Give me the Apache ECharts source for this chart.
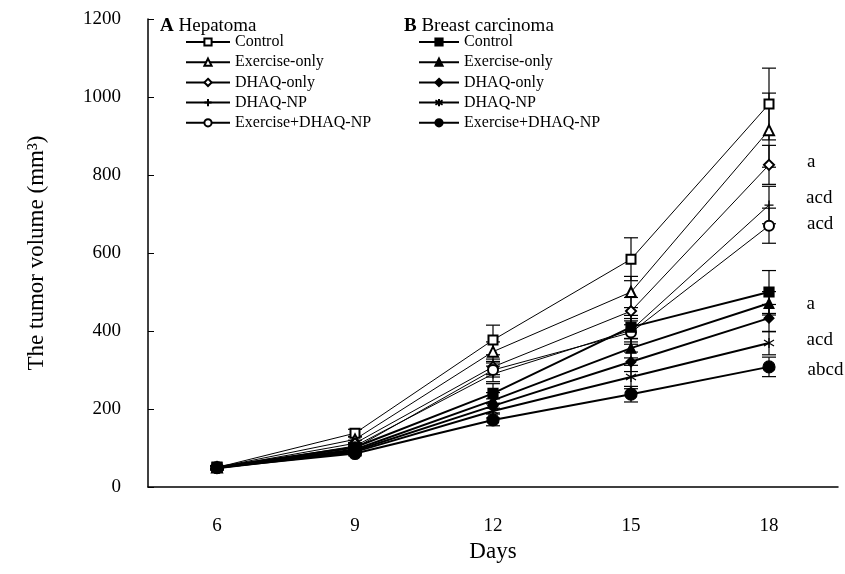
<!DOCTYPE html>
<html>
<head>
<meta charset="utf-8">
<script src="https://cdn.jsdelivr.net/npm/echarts@6/dist/echarts.min.js"></script>
<style>
  html, body { margin: 0; padding: 0; background: #fff; }
  #main { width: 845px; height: 574px; }
</style>
</head>
<body>
<div id="main"></div>
<script>
var days = ['6', '9', '12', '15', '18'];

// A Hepatoma (open marks, thin lines)
var hepControl   = [50, 138, 377, 584, 982];
var hepExercise  = [50, 122, 347, 500, 915];
var hepDhaq      = [49, 112, 308, 451, 826];
var hepDhaqNp    = [48, 105, 290, 402, 723];
var hepExDhaqNp  = [48, 100, 300, 396, 670];
var hepControlSd  = [5, 10, 38, 55, 92];
var hepExerciseSd = [4, 8, 25, 40, 95];
var hepDhaqSd     = [4, 8, 20, 35, 50];
var hepDhaqNpSd   = [4, 7, 20, 30, 48];
var hepExDhaqNpSd = [4, 7, 18, 30, 45];

// B Breast carcinoma (filled marks, heavier lines)
var brControl   = [51, 102, 240, 410, 500];
var brExercise  = [50, 96, 222, 356, 471];
var brDhaq      = [49, 93, 208, 321, 433];
var brDhaqNp    = [48, 90, 195, 282, 369];
var brExDhaqNp  = [50, 86, 172, 238, 308];
var brControlSd  = [4, 8, 25, 30, 55];
var brExerciseSd = [4, 7, 20, 25, 30];
var brDhaqSd     = [4, 7, 18, 25, 35];
var brDhaqNpSd   = [4, 6, 18, 30, 30];
var brExDhaqNpSd = [4, 6, 15, 20, 25];

var groupNames = ['Control', 'Exercise-only', 'DHAQ-only', 'DHAQ-NP', 'Exercise+DHAQ-NP'];
// significance letters at day 18
var hepNotes = ['', '', 'a', 'acd', 'acd'];
var brNotes  = ['', 'a', '', 'acd', 'abcd'];
var hepNoteShift = [0, 0, -3, -7, -2];
var brNoteShift  = [0, 1, 0, -3, 3];
var yTicks = [0, 1200, 200];

var serif = 'Liberation Serif';
var plusPath = 'path://M5,0L5,10M0,5L10,5';
var starPath = 'path://M5,0L5,10M0,2L10,8M0,8L10,2';

var hepSets = [
  [hepControl, hepControlSd, 'emptyRect', 9],
  [hepExercise, hepExerciseSd, 'emptyTriangle', 10],
  [hepDhaq, hepDhaqSd, 'emptyDiamond', 10],
  [hepDhaqNp, hepDhaqNpSd, plusPath, 9],
  [hepExDhaqNp, hepExDhaqNpSd, 'emptyCircle', 10]
];
var brSets = [
  [brControl, brControlSd, 'rect', 10],
  [brExercise, brExerciseSd, 'triangle', 10],
  [brDhaq, brDhaqSd, 'diamond', 10],
  [brDhaqNp, brDhaqNpSd, starPath, 10],
  [brExDhaqNp, brExDhaqNpSd, 'circle', 12]
];

function errorBars(vals, sds) {
  return vals.map(function (v, i) { return [i, v - sds[i], v + sds[i]]; });
}

function renderBar(params, api) {
  var lo = api.coord([api.value(0), api.value(1)]);
  var hi = api.coord([api.value(0), api.value(2)]);
  var w = 7;
  var st = { stroke: '#000', lineWidth: 1.2 };
  return {
    type: 'group',
    children: [
      { type: 'line', shape: { x1: hi[0], y1: hi[1], x2: lo[0], y2: lo[1] }, style: st },
      { type: 'line', shape: { x1: hi[0] - w, y1: hi[1], x2: hi[0] + w, y2: hi[1] }, style: st },
      { type: 'line', shape: { x1: lo[0] - w, y1: lo[1], x2: lo[0] + w, y2: lo[1] }, style: st }
    ]
  };
}

var series = [];
function addGroup(prefix, sets, notes, shifts, lw) {
  sets.forEach(function (s, k) {
    series.push({
      type: 'custom',
      renderItem: renderBar,
      data: errorBars(s[0], s[1]),
      silent: true,
      z: 1
    });
    series.push({
      name: prefix + groupNames[k],
      type: 'line',
      data: s[0].map(function (v, i) {
        if (i === 4 && notes[k]) {
          return { value: v, label: { show: true, formatter: notes[k], offset: [0, shifts[k]] } };
        }
        return v;
      }),
      symbol: s[2],
      symbolSize: s[3],
      showAllSymbol: true,
      lineStyle: { color: '#000', width: lw },
      itemStyle: { color: '#000', borderColor: '#000', borderWidth: 1.2 },
      label: {
        position: 'right', distance: 32,
        fontFamily: serif, fontSize: 19, color: '#000'
      },
      z: 3
    });
  });
}
addGroup('A:', hepSets, hepNotes, hepNoteShift, 1);
addGroup('B:', brSets, brNotes, brNoteShift, 2);

var legendBase = {
  orient: 'vertical',
  top: 34,
  padding: 0,
  itemWidth: 44,
  itemHeight: 9,
  itemGap: 4.2,
  selectedMode: false,
  textStyle: { fontFamily: serif, fontSize: 16, color: '#000' },
  formatter: function (n) { return n.slice(2); }
};

var chart = echarts.init(document.getElementById('main'));
chart.setOption({
  backgroundColor: '#fff',
  animation: false,
  grid: { left: 148, right: 7, top: 19, bottom: 87 },
  legend: [
    Object.assign({}, legendBase, {
      left: 185,
      data: groupNames.map(function (n) { return 'A:' + n; })
    }),
    Object.assign({}, legendBase, {
      left: 418,
      itemWidth: 40,
      data: groupNames.map(function (n) { return 'B:' + n; })
    })
  ],
  graphic: [
    {
      type: 'text', left: 160, top: 17,
      style: {
        text: '{b|A} Hepatoma',
        font: '19px ' + serif, fill: '#000',
        rich: { b: { fontFamily: serif, fontSize: 19, fontWeight: 'bold', fill: '#000' } }
      }
    },
    {
      type: 'text', left: 404, top: 17,
      style: {
        text: '{b|B} Breast carcinoma',
        font: '19px ' + serif, fill: '#000',
        rich: { b: { fontFamily: serif, fontSize: 19, fontWeight: 'bold', fill: '#000' } }
      }
    }
  ],
  xAxis: {
    type: 'category',
    data: days,
    boundaryGap: true,
    name: 'Days',
    nameLocation: 'middle',
    nameGap: 53,
    nameTextStyle: { fontFamily: serif, fontSize: 23, color: '#000' },
    axisLine: { lineStyle: { color: '#000', width: 1.5 } },
    axisTick: { inside: true, length: 6, lineStyle: { color: '#000' } },
    axisLabel: { margin: 30, fontFamily: serif, fontSize: 19, color: '#000' },
    splitLine: { show: false }
  },
  yAxis: {
    type: 'value',
    min: yTicks[0],
    max: yTicks[1],
    interval: yTicks[2],
    name: 'The tumor volume (mm³)',
    nameLocation: 'middle',
    nameGap: 100,
    nameTextStyle: { fontFamily: serif, fontSize: 23, color: '#000' },
    axisLine: { show: true, lineStyle: { color: '#000', width: 1.5 } },
    axisTick: { show: true, inside: true, length: 6, lineStyle: { color: '#000' } },
    axisLabel: {
      margin: 27, fontFamily: serif, fontSize: 19, color: '#000',
      formatter: function (v) { return String(v); }
    },
    splitLine: { show: false }
  },
  series: series
});
</script>
</body>
</html>
